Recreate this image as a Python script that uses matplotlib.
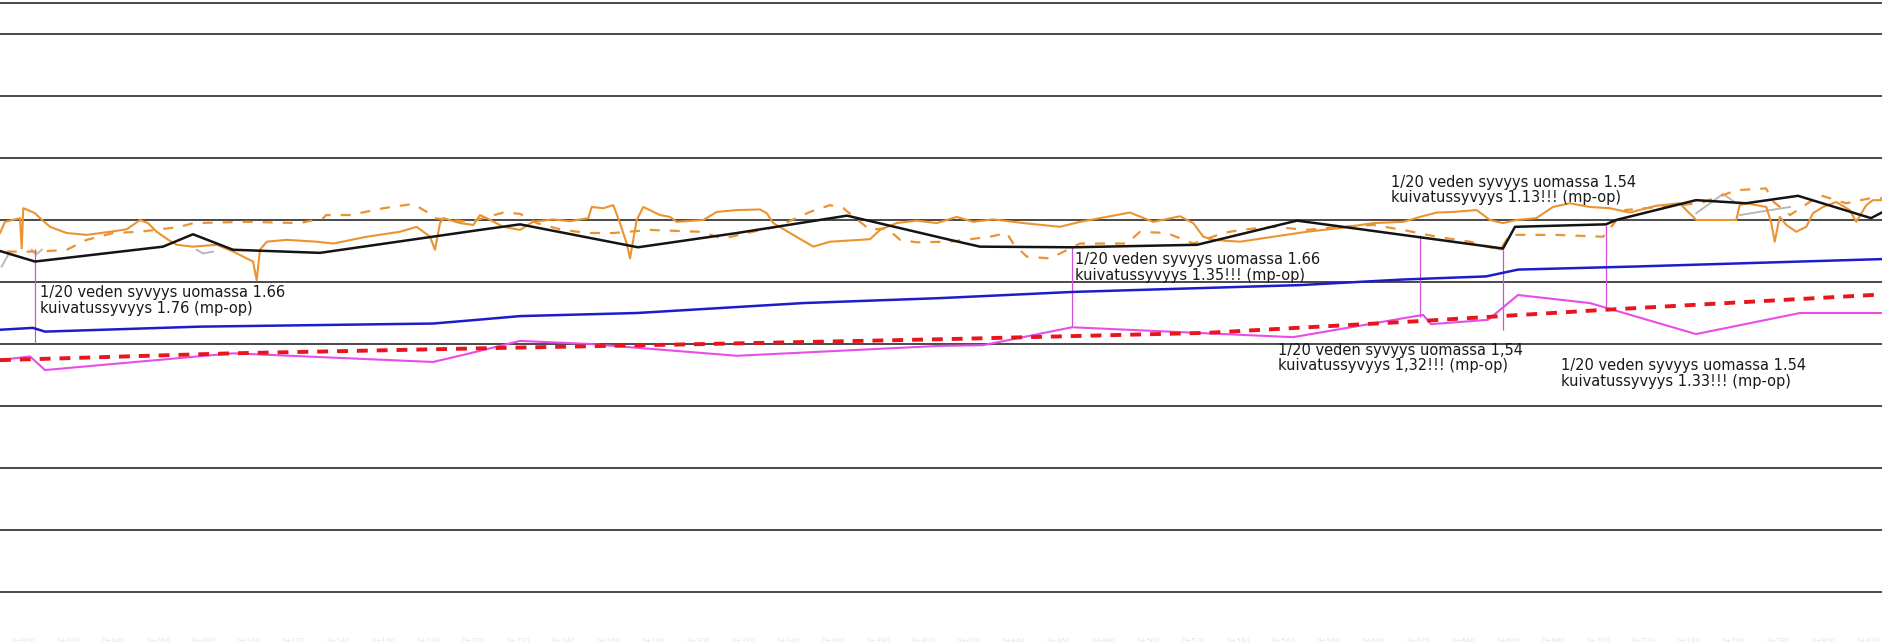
import matplotlib

matplotlib.use("Agg")

import matplotlib.pyplot as plt

# chainage (m) and elevations (m)
grid_levels = [95, 96, 97, 98, 99, 100, 101, 102, 103, 104, 104.5]

ground_x = [0, 35, 163, 193, 233, 320, 480, 520, 638, 737, 847, 950, 980, 1073,
            1197, 1297, 1503, 1515, 1606, 1616, 1696, 1746, 1798, 1871, 1883]
ground_z = [100.50, 100.33, 100.57, 100.77, 100.52, 100.47, 100.84, 100.93, 100.56,
            100.79, 101.07, 100.68, 100.57, 100.56, 100.60, 100.99, 100.54, 100.89,
            100.93, 101.00, 101.32, 101.27, 101.39, 101.03, 101.13]

water_x = [0, 33, 45, 200, 433, 470, 520, 637, 803, 940, 1073, 1300, 1403, 1486,
           1518, 1636, 1883]
water_z = [99.23, 99.26, 99.20, 99.28, 99.33, 99.38, 99.45, 99.50, 99.66, 99.74,
           99.84, 99.95, 100.04, 100.09, 100.20, 100.25, 100.37]

bottom_x = [0, 30, 45, 233, 433, 470, 520, 590, 737, 940, 983, 1072, 1293, 1423,
            1431, 1488, 1518, 1590, 1696, 1800, 1883]
bottom_z = [98.74, 98.80, 98.58, 98.85, 98.71, 98.85, 99.05, 99.00, 98.81, 98.97,
            98.98, 99.27, 99.11, 99.47, 99.32, 99.39, 99.79, 99.66, 99.16, 99.50, 99.50]

design_x = [0, 233, 480, 737, 950, 1207, 1420, 1603, 1883]
design_z = [98.74, 98.85, 98.93, 99.01, 99.08, 99.18, 99.37, 99.55, 99.80]

survey_x = [0, 5, 20, 21.7, 23.3, 28, 35, 40, 50, 66.7, 86.7, 110, 126.7, 140, 148,
            156.7, 168.3, 176.7, 193, 216.7, 233.3, 246.7, 253, 256.7, 260, 266.7,
            286.7, 316.7, 333.3, 366.7, 400, 416.7, 430, 435, 440, 443.3, 460, 473.3,
            480, 486.7, 503.3, 520, 533, 553, 570, 588.3, 591.7, 603.3, 613.3, 620,
            626.7, 630, 636.7, 643.3, 660, 670, 676.7, 703.3, 716.7, 736.7, 760,
            766.7, 773.3, 790, 813.3, 830, 870, 880, 896.7, 916.7, 936.7, 956.7,
            973.3, 993.3, 1023.3, 1060, 1080, 1106.7, 1130, 1153.3, 1180, 1193.3,
            1203.3, 1213.3, 1240, 1273.3, 1306.7, 1340, 1373.3, 1403, 1420, 1436.7,
            1453, 1476.7, 1490, 1503, 1516.3, 1536.3, 1553, 1569.7, 1589.7, 1609.7,
            1629.7, 1656.3, 1679.7, 1686.3, 1696.3, 1736.3, 1739.7, 1746.3, 1766.3,
            1771.3, 1774.7, 1779.7, 1786.3, 1796.3, 1806.3, 1813, 1823, 1836.3,
            1849.7, 1856.3, 1866.3, 1873, 1883]
survey_z = [100.79, 100.97, 101.03, 100.54, 101.19, 101.16, 101.11, 101.03, 100.89,
            100.79, 100.76, 100.81, 100.85, 101.00, 100.95, 100.81, 100.68, 100.60,
            100.57, 100.60, 100.49, 100.38, 100.33, 100.03, 100.52, 100.65, 100.68,
            100.65, 100.62, 100.73, 100.81, 100.89, 100.73, 100.52, 100.95, 101.03,
            100.95, 100.92, 101.08, 101.03, 100.89, 100.84, 100.97, 101.01, 100.98,
            101.03, 101.21, 101.19, 101.24, 100.95, 100.62, 100.38, 101.00, 101.21,
            101.08, 101.05, 100.97, 101.00, 101.13, 101.16, 101.17, 101.11, 100.95,
            100.79, 100.57, 100.65, 100.69, 100.84, 100.95, 100.99, 100.95, 101.05,
            100.97, 101.01, 100.95, 100.89, 100.97, 101.05, 101.12, 100.97, 101.06,
            100.95, 100.73, 100.68, 100.65, 100.73, 100.81, 100.87, 100.95, 100.97,
            101.05, 101.12, 101.13, 101.16, 101.00, 100.95, 101.00, 101.03, 101.21,
            101.27, 101.21, 101.19, 101.12, 101.23, 101.27, 101.16, 101.00, 101.00,
            101.24, 101.27, 101.21, 100.95, 100.65, 101.05, 100.92, 100.81, 100.89,
            101.11, 101.21, 101.29, 101.16, 100.97, 101.24, 101.32, 101.32]

old_x = [6.7, 40, 66.7, 86.7, 113.3, 140, 180, 193.3, 246.7, 300, 323.3, 326, 350,
         383.3, 413.3, 426.7, 433.3, 470, 503.3, 520, 536.7, 560, 586.7, 613.3, 650,
         700, 723.3, 746.7, 776.7, 810, 830, 843.3, 870, 886.7, 900, 916.7, 950, 990,
         1006.7, 1013.3, 1026.7, 1050, 1080, 1126.7, 1140, 1166.7, 1193.3, 1223.3,
         1240, 1273.3, 1306.7, 1340, 1373.3, 1403, 1436.7, 1470, 1500, 1510, 1556,
         1603, 1625, 1700, 1723, 1736, 1766, 1773, 1790, 1820, 1846, 1870, 1883]
old_z = [100.49, 100.49, 100.52, 100.68, 100.79, 100.81, 100.89, 100.95, 100.97,
         100.95, 101.03, 101.08, 101.08, 101.19, 101.26, 101.13, 101.03, 100.97,
         101.12, 101.10, 100.95, 100.85, 100.79, 100.79, 100.84, 100.81, 100.70,
         100.79, 100.89, 101.13, 101.24, 101.19, 100.84, 100.87, 100.68, 100.64,
         100.65, 100.73, 100.79, 100.62, 100.41, 100.38, 100.62, 100.62, 100.81,
         100.79, 100.62, 100.79, 100.84, 100.89, 100.84, 100.89, 100.92, 100.84,
         100.73, 100.65, 100.52, 100.76, 100.76, 100.73, 101.16, 101.27, 101.40,
         101.48, 101.51, 101.30, 101.08, 101.40, 101.27, 101.35, 101.35]

gray_parts = [
    ([1.7, 10], [100.25, 100.49]),
    ([31.7, 36, 41.7], [100.52, 100.44, 100.52]),
    ([196.7, 203, 213], [100.52, 100.46, 100.49]),
    ([1486.3, 1503], [100.57, 100.52]),
    ([1696.3, 1723, 1736.3], [101.11, 101.42, 101.27]),
    ([1740, 1790], [101.08, 101.21]),
]

note_x = [35, 1072, 1420, 1503, 1606]
note_top = [100.53, 100.57, 100.76, 100.52, 100.92]
note_bot = [99.01, 99.27, 99.44, 99.22, 99.60]

notes = [
    (40, 99.95, "1/20 veden syvyys uomassa 1.66\nkuivatussyvyys 1.76 (mp-op)"),
    (1075, 100.48, "1/20 veden syvyys uomassa 1.66\nkuivatussyvyys 1.35!!! (mp-op)"),
    (1391, 101.73, "1/20 veden syvyys uomassa 1.54\nkuivatussyvyys 1.13!!! (mp-op)"),
    (1278, 99.02, "1/20 veden syvyys uomassa 1,54\nkuivatussyvyys 1,32!!! (mp-op)"),
    (1561, 98.77, "1/20 veden syvyys uomassa 1.54\nkuivatussyvyys 1.33!!! (mp-op)"),
]

station_x = list(range(12, 1883, 45))

fig = plt.figure(figsize=(18.83, 6.42), dpi=100)
ax = fig.add_axes([0, 0, 1, 1])
ax.set_xlim(0, 1883)
ax.set_ylim(94.194, 104.548)
ax.axis("off")

for lev in grid_levels:
    ax.axhline(lev, color="#2a2a2a", linewidth=1.2, zorder=1)

for gx, gz in gray_parts:
    ax.plot(gx, gz, color="#b8b8b8", linewidth=1.4, zorder=2)

ax.plot(old_x, old_z, color="#ec9330", linewidth=1.6, dashes=(4.5, 4.5), zorder=3)
ax.plot(survey_x, survey_z, color="#ec9330", linewidth=1.5, zorder=3)
ax.plot(ground_x, ground_z, color="#141414", linewidth=1.8, zorder=4)
ax.plot(water_x, water_z, color="#1c1ccc", linewidth=1.8, zorder=4)
ax.plot(bottom_x, bottom_z, color="#e84de8", linewidth=1.5, zorder=4)
ax.plot(design_x, design_z, color="#e8141e", linewidth=2.8, dashes=(2.8, 2.3), zorder=5)

ax.vlines(note_x, note_bot, note_top, color="#d050d8", linewidth=0.9, zorder=3)

for x, z, txt in notes:
    ax.text(x, z, txt, ha="left", va="top", fontsize=10.5, color="#1a1a1a",
            linespacing=1.05, family=["Liberation Sans Narrow", "DejaVu Sans"],
            zorder=6)

for i, sx in enumerate(station_x):
    ax.text(sx, 94.21, f"0+{i * 20:03d}", ha="left", va="center", fontsize=5,
            color="#e4e4e4", zorder=1)

fig.savefig("out.png", dpi=100)
